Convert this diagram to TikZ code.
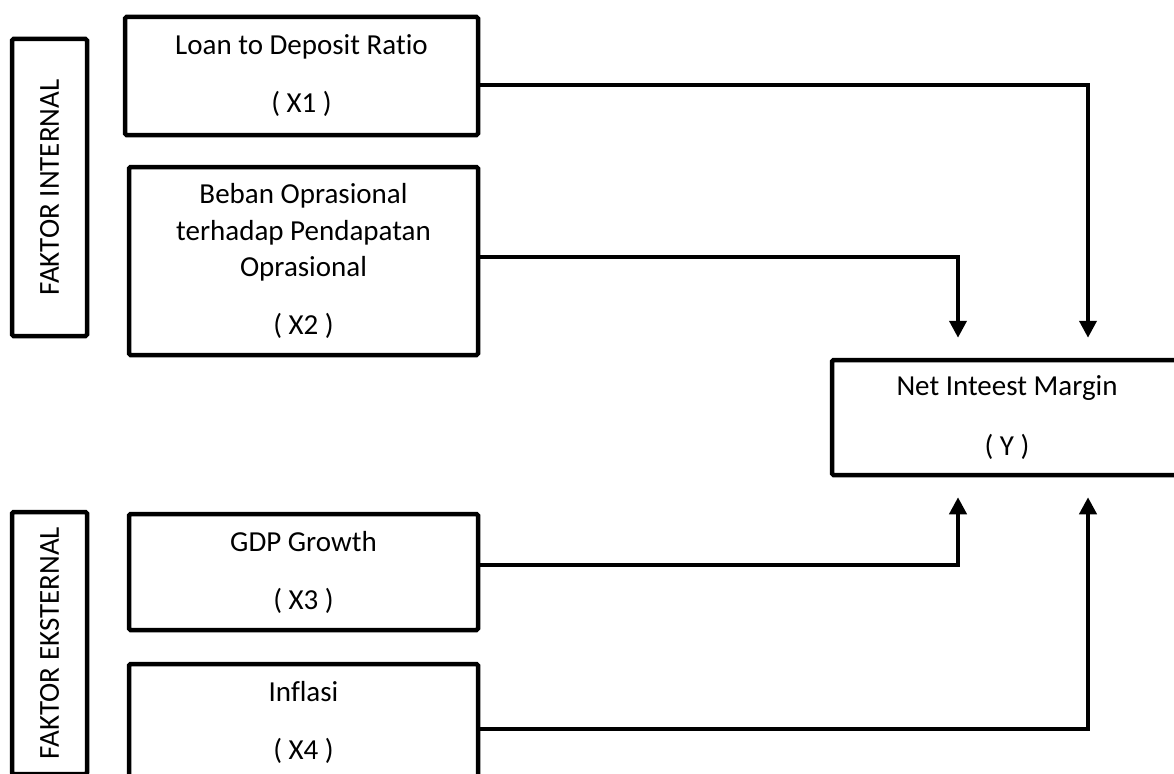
\documentclass[tikz,border=0pt]{standalone}
\usepackage{fontspec}
\setmainfont{Carlito}[RawFeature=-liga]
\usetikzlibrary{arrows.meta}
\begin{document}
\begin{tikzpicture}[x=1pt,y=-1pt,
  box/.style={draw,line width=4.5pt,rounded corners=1.5pt,align=center,inner sep=0pt,
              font=\fontsize{29}{36.5}\selectfont},
  arr/.style={line width=4pt,-{Triangle[width=17pt,length=17pt]},shorten >=20pt}]
\useasboundingbox (0,0) rectangle (1174,773);
\clip (0,0) rectangle (1174,773);
% side labels
\node[box,rotate=90,minimum width=297pt,minimum height=75pt] (fi) at (49.5,187.5) {FAKTOR INTERNAL};
\node[box,rotate=90,minimum width=262pt,minimum height=75pt] (fe) at (49.5,643) {FAKTOR EKSTERNAL};
% variable boxes
\node[box,minimum width=353pt,minimum height=118pt] (x1) at (301.5,76) {Loan to Deposit Ratio\\[21.5pt]( X1 )};
\node[box,minimum width=349pt,minimum height=188pt] (x2) at (303.5,261) {Beban Oprasional\\terhadap Pendapatan\\Oprasional\\[21.5pt]( X2 )};
\node[box,minimum width=349pt,minimum height=116pt] (x3) at (303.5,572) {GDP Growth\\[21.5pt]( X3 )};
\node[box,minimum width=349pt,minimum height=116pt] (x4) at (303.5,722) {Inflasi\\[21.5pt]( X4 )};
\node[box,minimum width=350pt,minimum height=115pt] (nim) at (1007,417.5) {Net Inteest Margin\\[23.5pt]( Y )};
% connectors
\draw[arr] ([yshift=-9pt]x1.east) -| ([xshift=81pt]nim.north);
\draw[arr] ([yshift=4pt]x2.east) -| ([xshift=-49pt]nim.north);
\draw[arr] ([yshift=7pt]x3.east) -| ([xshift=-49pt]nim.south);
\draw[arr] ([yshift=-7pt]x4.east) -| ([xshift=81pt]nim.south);
\end{tikzpicture}
\end{document}
